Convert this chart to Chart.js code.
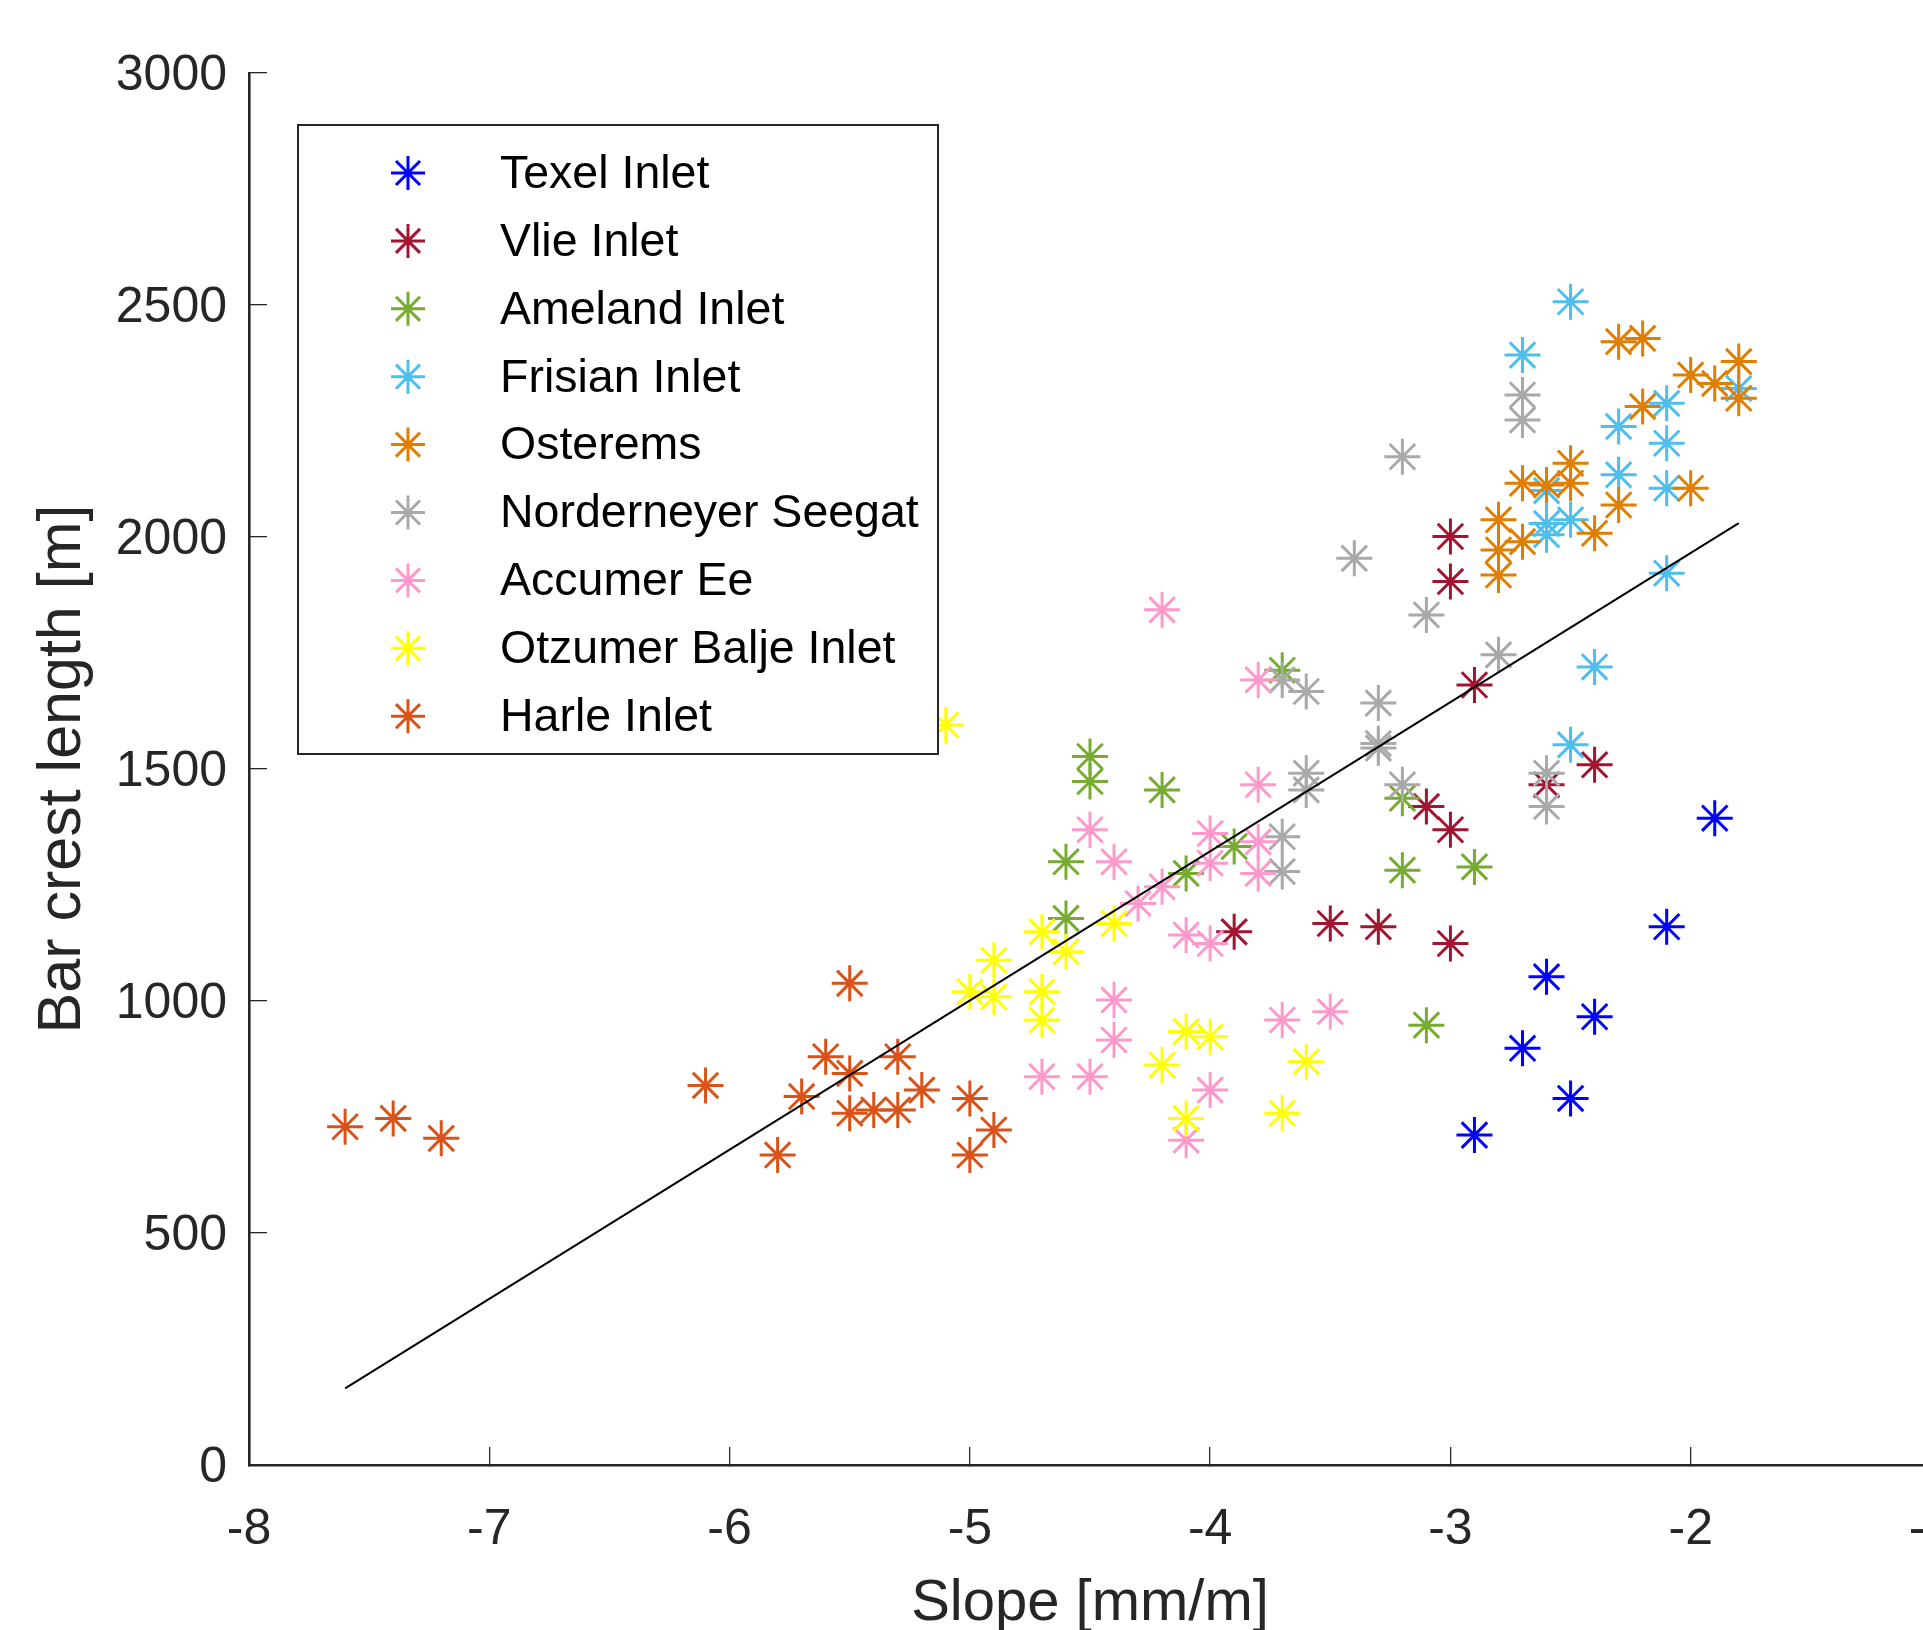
<!DOCTYPE html>
<html>
<head>
<meta charset="utf-8">
<script src="https://cdn.jsdelivr.net/npm/chart.js@4.4.1/dist/chart.umd.min.js"></script>
<style>
html, body { margin: 0; padding: 0; overflow: hidden; background: #ffffff; }
#wrap { position: relative; width: 1952px; height: 1630px; }
</style>
</head>
<body>
<div id="wrap"><canvas id="c"></canvas></div>
<script>
// ---- data ----
const seriesNames = ['Texel Inlet', 'Vlie Inlet', 'Ameland Inlet', 'Frisian Inlet', 'Osterems',
  'Norderneyer Seegat', 'Accumer Ee', 'Otzumer Balje Inlet', 'Harle Inlet'];
const seriesColors = ['#0000FF', '#A2142F', '#77AC30', '#4DBEEE', '#E07E00',
  '#A9A9A9', '#FF99CC', '#FFFF00', '#D95319'];

const texelX = [-2.9, -2.5, -2.7, -2.4, -2.6, -2.1, -1.9];
const texelY = [711, 790, 898, 966, 1052, 1160, 1394];

const vlieX = [-3.9, -3.5, -3.3, -3.0, -3.0, -3.1, -2.6, -2.4, -2.9, -3.0, -3.0];
const vlieY = [1149, 1167, 1160, 1124, 1369, 1419, 1466, 1509, 1681, 1904, 2001];

const amelandX = [-4.6, -4.6, -4.5, -4.5, -4.2, -4.1, -3.9, -3.7, -3.2, -3.2, -3.1, -2.9];
const amelandY = [1178, 1300, 1527, 1473, 1455, 1275, 1333, 1713, 1437, 1282, 948, 1289];

const frisianX = [-2.5, -2.7, -1.8, -2.1, -2.3, -2.1, -2.3, -2.1, -2.6, -2.6, -2.5, -2.6, -2.1, -2.4, -2.5];
const frisianY = [2507, 2392, 2320, 2288, 2238, 2202, 2134, 2105, 2100, 2029, 2037, 2005, 1922, 1720, 1552];

const ostermsX = [-2.3, -2.2, -2.0, -1.9, -1.8, -1.8, -2.2, -2.0, -2.5, -2.7, -2.6, -2.5, -2.3, -2.4, -2.8, -2.7, -2.8, -2.8];
const ostermsY = [2421, 2428, 2349, 2331, 2378, 2299, 2281, 2105, 2159, 2116, 2112, 2116, 2069, 2008, 2037, 1990, 1972, 1918];

const norderX = [-3.2, -3.4, -2.7, -2.7, -3.1, -2.8, -3.7, -3.6, -3.3, -3.3, -3.3, -3.6, -3.6, -3.2, -2.6, -2.6, -3.7, -3.7];
const norderY = [2173, 1954, 2306, 2252, 1832, 1746, 1692, 1667, 1642, 1555, 1545, 1491, 1455, 1466, 1491, 1419, 1354, 1279];

const accumerX = [-4.2, -3.8, -3.8, -4.5, -4.4, -4.0, -4.0, -3.8, -3.8, -4.2, -4.3, -4.1, -4.0, -4.4, -4.4, -4.5, -4.7, -3.7, -3.5, -4.0, -4.1];
const accumerY = [1843, 1692, 1466, 1369, 1300, 1361, 1297, 1343, 1275, 1246, 1210, 1142, 1124, 1002, 916, 837, 837, 959, 977, 808, 700];

const otzumerX = [-5.1, -4.7, -4.9, -5.0, -4.9, -4.7, -4.7, -4.6, -4.4, -4.1, -4.0, -4.2, -3.6, -3.7, -4.1];
const otzumerY = [1595, 1149, 1088, 1020, 1009, 1020, 959, 1106, 1167, 934, 923, 862, 869, 758, 747];

const harleX = [-7.6, -7.4, -7.2, -6.1, -5.8, -5.7, -5.6, -5.5, -5.5, -5.5, -5.4, -5.3, -5.3, -5.2, -5.0, -5.0, -4.9];
const harleY = [729, 747, 704, 818, 668, 794, 880, 1038, 844, 758, 765, 765, 880, 808, 790, 668, 722];

const fitX = [-7.6, -1.8];
const fitY = [165, 2030];

const xTicks = [-8, -7, -6, -5, -4, -3, -2, -1];
const yTicks = [0, 500, 1000, 1500, 2000, 2500, 3000];

// ---- build chart ----
const FONT = '"Liberation Sans", Arial, Helvetica, sans-serif';
const AXIS = '#262626';
const allX = [texelX, vlieX, amelandX, frisianX, ostermsX, norderX, accumerX, otzumerX, harleX];
const allY = [texelY, vlieY, amelandY, frisianY, ostermsY, norderY, accumerY, otzumerY, harleY];
const toPts = (xs, ys) => xs.map((x, i) => ({ x: x, y: ys[i] }));

const datasets = seriesNames.map((name, i) => ({
  label: name,
  data: toPts(allX[i], allY[i]),
  showLine: false,
  pointStyle: 'star',
  pointRadius: 18,
  pointHoverRadius: 18,
  pointBorderWidth: 3,
  pointHoverBorderWidth: 3,
  pointBorderColor: seriesColors[i],
  pointBackgroundColor: seriesColors[i],
  borderColor: seriesColors[i],
  backgroundColor: seriesColors[i],
  order: 20 - i
}));
datasets.push({
  label: 'fit',
  data: toPts(fitX, fitY),
  showLine: true,
  pointRadius: 0,
  borderColor: '#000000',
  borderWidth: 2,
  fill: false,
  order: 0
});

const boxLegend = {
  id: 'boxLegend',
  afterDatasetsDraw(chart) {
    const ctx = chart.ctx;
    const ca = chart.chartArea;
    const L = ca.left + 49, T = ca.top + 52, W = 640, H = 629;
    ctx.save();
    ctx.fillStyle = '#ffffff';
    ctx.fillRect(L, T, W, H);
    ctx.lineWidth = 2;
    ctx.strokeStyle = AXIS;
    ctx.strokeRect(L, T, W, H);
    ctx.font = '46.5px ' + FONT;
    ctx.textBaseline = 'middle';
    ctx.textAlign = 'left';
    seriesNames.forEach((name, i) => {
      const cy = T + 48 + i * 67.9;
      const cx = L + 110;
      ctx.strokeStyle = seriesColors[i];
      ctx.fillStyle = seriesColors[i];
      ctx.lineWidth = 3;
      Chart.helpers.drawPoint(ctx, { pointStyle: 'star', radius: 17, borderWidth: 3, rotation: 0 }, cx, cy);
      ctx.fillStyle = '#000000';
      ctx.fillText(name, L + 202, cy + 2);
    });
    ctx.restore();
  }
};

new Chart(document.getElementById('c'), {
  type: 'scatter',
  data: { datasets: datasets },
  plugins: [boxLegend],
  options: {
    responsive: true,
    maintainAspectRatio: false,
    animation: false,
    events: [],
    devicePixelRatio: 1,
    layout: { padding: { left: 0, right: 0, top: 73, bottom: 0 } },
    plugins: { legend: { display: false }, tooltip: { enabled: false } },
    scales: {
      x: {
        type: 'linear',
        min: xTicks[0],
        max: xTicks[xTicks.length - 1],
        afterBuildTicks(s) { s.ticks = xTicks.map(v => ({ value: v })); },
        ticks: {
          font: { size: 50, family: FONT },
          color: AXIS,
          padding: 53,
          maxRotation: 0,
          autoSkip: false,
          callback: v => String(v)
        },
        grid: { display: true, drawOnChartArea: false, drawTicks: true, tickLength: -18, color: AXIS, lineWidth: 1.3 },
        border: { display: true, color: AXIS, width: 2.6 },
        title: {
          display: true, text: 'Slope [mm/m]', color: AXIS,
          font: { size: 58, family: FONT }, padding: { top: 0, bottom: -9 }
        },
        afterFit(s) { s.height = 165; s.paddingLeft = 0; s.paddingRight = 0; }
      },
      y: {
        type: 'linear',
        min: yTicks[0],
        max: yTicks[yTicks.length - 1],
        afterBuildTicks(s) { s.ticks = yTicks.map(v => ({ value: v })); },
        ticks: {
          font: { size: 50, family: FONT },
          color: AXIS,
          padding: 40,
          labelOffset: 3,
          autoSkip: false,
          callback: v => String(v)
        },
        grid: { display: true, drawOnChartArea: false, drawTicks: true, tickLength: -18, color: AXIS, lineWidth: 1.3 },
        border: { display: true, color: AXIS, width: 2.6 },
        title: {
          display: true, text: 'Bar crest length [m]', color: AXIS,
          font: { size: 61, family: FONT }, padding: { top: 27, bottom: 0 }
        },
        afterFit(s) { s.width = 249; s.paddingTop = 0; s.paddingBottom = 0; }
      }
    }
  }
});
</script>
</body>
</html>
